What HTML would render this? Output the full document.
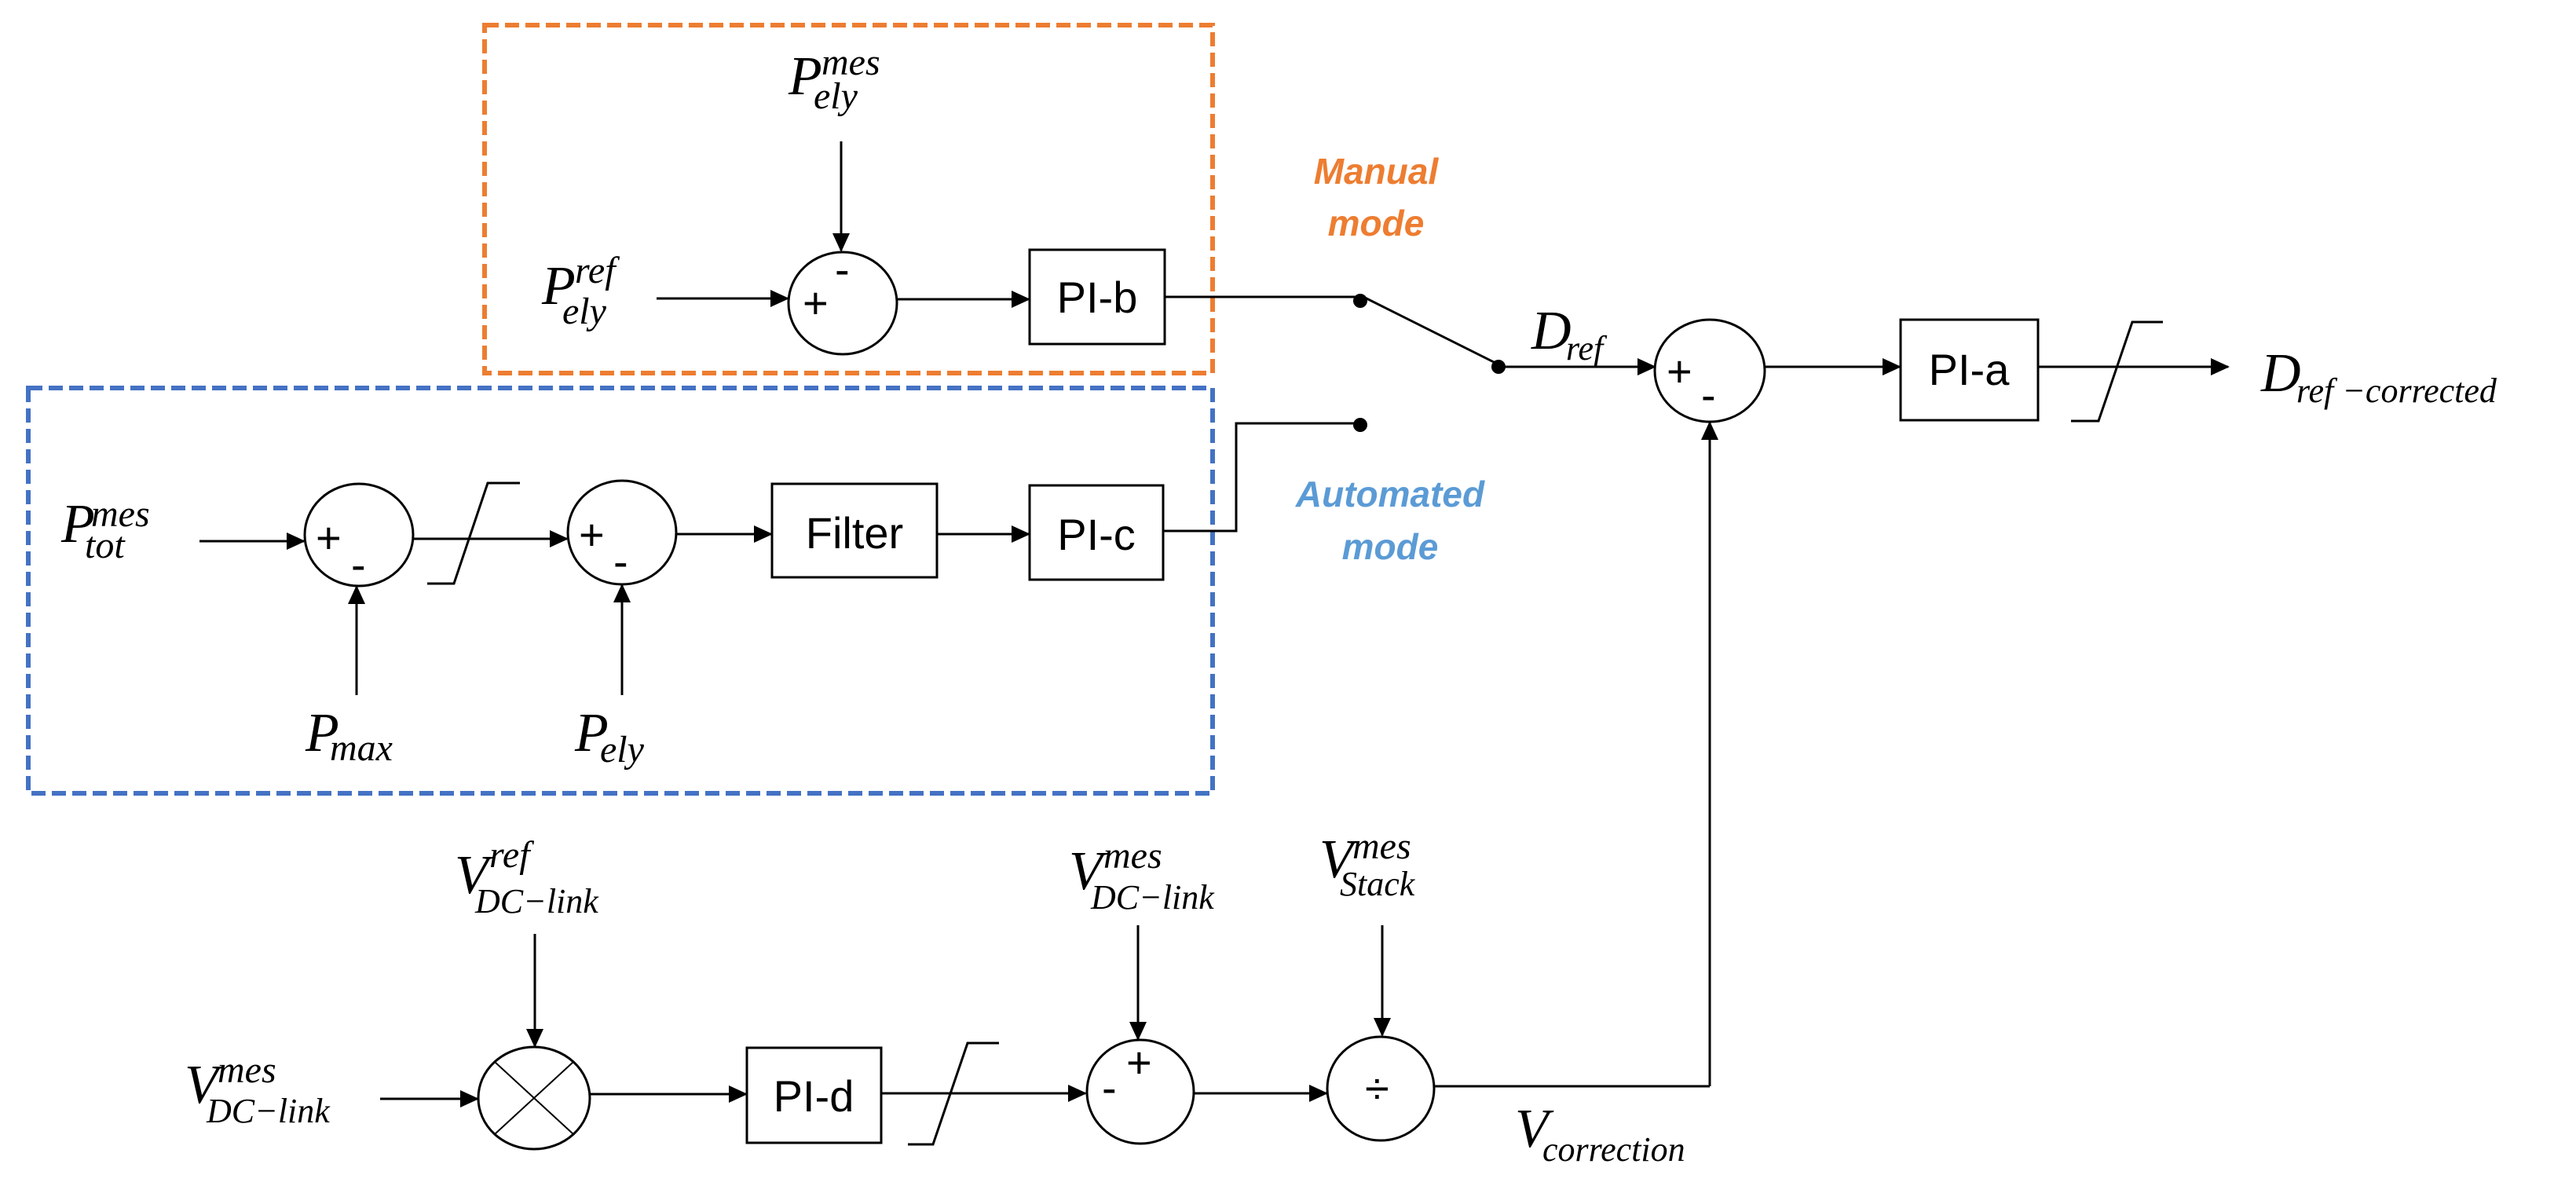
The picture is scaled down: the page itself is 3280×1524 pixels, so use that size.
<!DOCTYPE html>
<html><head><meta charset="utf-8"><style>
html,body{margin:0;padding:0;background:#fff;}
svg{display:block;}
.m{font-family:"Liberation Serif",serif;font-style:italic;fill:#000;}
.b{font-family:"Liberation Sans",sans-serif;fill:#000;font-size:56px;}
</style></head><body>
<svg width="3280" height="1524" viewBox="0 0 3280 1524" xmlns="http://www.w3.org/2000/svg">
<defs>
<marker id="a" markerWidth="24" markerHeight="24" refX="22" refY="12" orient="auto" markerUnits="userSpaceOnUse">
<path d="M0,1 L24,12 L0,23 Z" fill="#000"/></marker>
</defs>
<g fill="none" stroke-width="6" stroke-dasharray="18,8">
<rect x="617" y="32" width="927" height="443" stroke="#ED7D31"/>
<rect x="36" y="494" width="1508" height="516" stroke="#4472C4"/>
</g>
<g stroke="#000" stroke-width="3" fill="none">
<line x1="1071" y1="180" x2="1071" y2="319" marker-end="url(#a)"/>
<line x1="836" y1="380" x2="1003" y2="380" marker-end="url(#a)"/>
<ellipse cx="1073" cy="386" rx="69" ry="65"/>
<line x1="1143" y1="381" x2="1310" y2="381" marker-end="url(#a)"/>
<rect x="1311" y="318" width="172" height="120"/>
<line x1="1483" y1="378" x2="1728" y2="378"/>
<line x1="1736" y1="378" x2="1908" y2="464"/>
<line x1="1912" y1="467" x2="2107" y2="467" marker-end="url(#a)"/>
<ellipse cx="2177" cy="472" rx="70" ry="65"/>
<line x1="2247" y1="467" x2="2419" y2="467" marker-end="url(#a)"/>
<rect x="2420" y="407" width="175" height="128"/>
<line x1="2595" y1="467" x2="2837" y2="467" marker-end="url(#a)"/>
<polyline points="2637,536 2672,536 2715,410 2754,410"/>
<line x1="2177" y1="1383" x2="2177" y2="538" marker-end="url(#a)"/>
<line x1="254" y1="689" x2="387" y2="689" marker-end="url(#a)"/>
<ellipse cx="457" cy="681" rx="69" ry="65"/>
<line x1="454" y1="885" x2="454" y2="747" marker-end="url(#a)"/>
<polyline points="544,743 578,743 621,615 662,615"/>
<line x1="526" y1="686" x2="722" y2="686" marker-end="url(#a)"/>
<ellipse cx="792" cy="678" rx="69" ry="66"/>
<line x1="792" y1="885" x2="792" y2="745" marker-end="url(#a)"/>
<line x1="861" y1="680" x2="982" y2="680" marker-end="url(#a)"/>
<rect x="983" y="616" width="210" height="119"/>
<line x1="1193" y1="680" x2="1310" y2="680" marker-end="url(#a)"/>
<rect x="1311" y="618" width="170" height="120"/>
<polyline points="1481,676 1574,676 1574,539 1732,539"/>
<line x1="681" y1="1189" x2="681" y2="1332" marker-end="url(#a)"/>
<line x1="484" y1="1399" x2="608" y2="1399" marker-end="url(#a)"/>
<ellipse cx="680" cy="1398" rx="71" ry="65"/>
<line x1="630" y1="1352" x2="730" y2="1444" stroke-width="2"/>
<line x1="730" y1="1352" x2="630" y2="1444" stroke-width="2"/>
<line x1="751" y1="1393" x2="950" y2="1393" marker-end="url(#a)"/>
<rect x="951" y="1334" width="171" height="121"/>
<line x1="1122" y1="1392" x2="1382" y2="1392" marker-end="url(#a)"/>
<polyline points="1156,1457 1188,1457 1232,1328 1272,1328"/>
<line x1="1449" y1="1178" x2="1449" y2="1323" marker-end="url(#a)"/>
<ellipse cx="1452" cy="1390" rx="68" ry="66"/>
<line x1="1520" y1="1392" x2="1689" y2="1392" marker-end="url(#a)"/>
<line x1="1760" y1="1178" x2="1760" y2="1318" marker-end="url(#a)"/>
<ellipse cx="1758" cy="1386" rx="68" ry="66"/>
<line x1="1826" y1="1383" x2="2177" y2="1383"/>
</g>
<circle cx="1732" cy="383" r="9" fill="#000"/>
<circle cx="1908" cy="467" r="9" fill="#000"/>
<circle cx="1732" cy="541" r="9" fill="#000"/>
<g font-family="Liberation Sans,sans-serif" font-size="56" fill="#000">
<text x="1022" y="405">+</text><text x="1063" y="362">-</text>
<text x="2122" y="492">+</text><text x="2166" y="522">-</text>
<text x="402" y="704">+</text><text x="447" y="738">-</text>
<text x="737" y="700">+</text><text x="781" y="734">-</text>
<text x="1434" y="1372">+</text><text x="1403" y="1404">-</text>
<text x="1738" y="1405">÷</text>
</g>
<text class="b" x="1397" y="398" text-anchor="middle">PI-b</text>
<text class="b" x="2507" y="490" text-anchor="middle">PI-a</text>
<text class="b" x="1088" y="698" text-anchor="middle">Filter</text>
<text class="b" x="1396" y="700" text-anchor="middle">PI-c</text>
<text class="b" x="1036" y="1415" text-anchor="middle">PI-d</text>
<g font-family="Liberation Sans,sans-serif" font-style="italic" font-weight="bold" font-size="46" text-anchor="middle">
<text x="1752" y="234" fill="#ED7D31">Manual</text>
<text x="1752" y="300" fill="#ED7D31">mode</text>
<text x="1770" y="645" fill="#5B9BD5">Automated</text>
<text x="1770" y="712" fill="#5B9BD5">mode</text>
</g>
<g class="m">
<text x="1004" y="120" font-size="70">P</text><text x="1046" y="95" font-size="48">mes</text><text x="1036" y="138" font-size="48">ely</text>
<text x="690" y="387" font-size="70">P</text><text x="732" y="360" font-size="48">ref</text><text x="716" y="412" font-size="48">ely</text>
<text x="1950" y="444" font-size="70">D</text><text x="1994" y="458" font-size="44">ref</text>
<text x="2879" y="498" font-size="70">D</text><text x="2924" y="512" font-size="44">ref −corrected</text>
<text x="78" y="690" font-size="70">P</text><text x="116" y="670" font-size="48">mes</text><text x="108" y="710" font-size="48">tot</text>
<text x="389" y="956" font-size="70">P</text><text x="420" y="968" font-size="48">max</text>
<text x="732" y="956" font-size="70">P</text><text x="764" y="970" font-size="48">ely</text>
<text x="579" y="1137" font-size="70">V</text><text x="623" y="1104" font-size="48">ref</text><text x="605" y="1162" font-size="44">DC−link</text>
<text x="1361" y="1132" font-size="70">V</text><text x="1405" y="1105" font-size="48">mes</text><text x="1389" y="1157" font-size="44">DC−link</text>
<text x="1680" y="1117" font-size="70">V</text><text x="1722" y="1093" font-size="48">mes</text><text x="1706" y="1140" font-size="44">Stack</text>
<text x="235" y="1404" font-size="70">V</text><text x="277" y="1378" font-size="48">mes</text><text x="263" y="1429" font-size="44">DC−link</text>
<text x="1929" y="1460" font-size="70">V</text><text x="1964" y="1478" font-size="44">correction</text>
</g>
</svg>
</body></html>
